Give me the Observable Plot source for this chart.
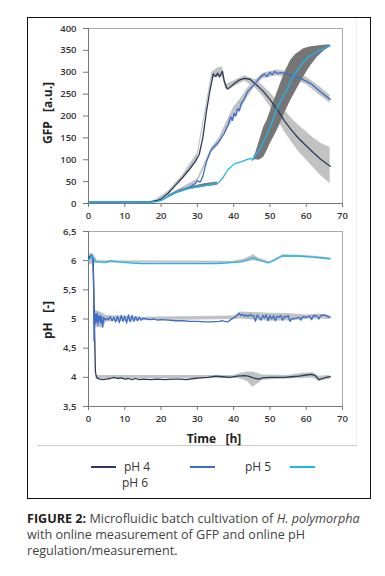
<!DOCTYPE html>
<html><head><meta charset="utf-8">
<script src="https://cdn.jsdelivr.net/npm/d3@7"></script>
<script src="https://cdn.jsdelivr.net/npm/@observablehq/plot@0.6"></script>
<style>
body{margin:0;background:#fff;}
#page{position:relative;width:385px;height:576px;overflow:hidden;font-family:"Open Sans",sans-serif;}
.abs{position:absolute;}
.ylab{position:absolute;font-family:"Open Sans",sans-serif;font-weight:700;font-size:12px;color:#222;white-space:pre;transform:translate(-50%,-50%) rotate(-90deg);}
.xlab{position:absolute;font-family:"Open Sans",sans-serif;font-weight:700;font-size:12px;color:#222;white-space:pre;transform:translate(-50%,-50%);}
.leg{position:absolute;font-family:"Open Sans",sans-serif;font-size:12px;color:#333;white-space:nowrap;}
.legline{position:absolute;height:2px;width:25px;}
#caption{position:absolute;left:27px;top:511px;font-family:"Open Sans",sans-serif;font-size:12.6px;line-height:16px;color:#444;white-space:nowrap;}
</style></head>
<body><div id="page">
<div class="abs" style="left:27px;top:17px;width:344px;height:482px;border:1.5px solid #111;box-sizing:border-box;"></div>
<div class="abs" style="left:356px;top:18px;width:1px;height:427px;background:#eee;"></div>
<div class="abs" style="left:37px;top:445px;width:320px;height:1px;background:#ccc;"></div>
<div id="c1" class="abs" style="left:0;top:0;"></div>
<div id="c2" class="abs" style="left:0;top:225px;"></div>
<div class="ylab" style="left:47px;top:113px;">GFP   [a.u.]</div>
<div class="ylab" style="left:47px;top:320px;">pH   [-]</div>
<div class="xlab" style="left:214px;top:438px;">Time   [h]</div>
<div id="legend"></div>
<div id="caption"><b style="color:#222">FIGURE 2:</b> Microfluidic batch cultivation of <i>H. polymorpha</i><br>with online measurement of GFP and online pH<br>regulation/measurement.</div>
</div>
<script>
// ---- data ----
const seriesNames = ["pH 4", "pH 5", "pH 6"];
const seriesColors = ["#2d3b5a", "#3a6ecb", "#1eb6ee"];
const xTicks = [0, 10, 20, 30, 40, 50, 60, 70];
const gfpTicks = [0, 50, 100, 150, 200, 250, 300, 350, 400];
const phTicks = [3.5, 4, 4.5, 5, 5.5, 6, 6.5];

// GFP [t, value]
const gfpPH4 = [[0,3],[10,3],[17,4],[19,7],[20,10],[22,24],[24,42],[26,60],[28,80],[29.5,97],[30.5,112],[31.5,150],[32.5,210],[33.5,260],[34.4,296],[35.1,290],[35.6,298],[36.1,289],[36.9,302],[37.4,280],[38,265],[38.5,262],[40,273],[41.5,282],[43,286],[44.5,284],[46,273],[48,258],[50,238],[52,215],[54,189],[56,167],[58,148],[60,132],[62,116],[64,101],[66.6,85]];
const gfpPH5 = [[0,3],[10,3],[17,3],[19,5],[20,7],[22,16],[24,25],[26,30],[28,38],[29.5,46],[30,52],[30.8,49],[31.5,62],[32.5,95],[33.7,122],[35,133],[36,142],[37.4,160],[38.5,180],[39.2,198],[39.7,190],[40.1,206],[40.6,200],[41.1,217],[41.6,212],[42,227],[43,240],[43.8,255],[45,266],[46,275],[47.5,290],[48.5,296],[49.2,290],[50,300],[50.6,294],[51.3,302],[52,297],[53,299],[54,298],[55.8,293],[58.5,286],[61.3,274],[64,255],[66.6,238]];
const gfpPH6 = [[0,3],[10,3],[17,3],[19,5],[20,7],[22,16],[24,25],[26,31],[28,35],[30,38],[32,41],[34,44],[35.6,46],[36.9,57],[38.3,76],[40.1,90],[42,95],[43.8,101],[44.9,103],[45.2,99],[45.7,107],[47.5,128],[49.3,160],[51,195],[52,218],[53,235],[54.8,262],[56,285],[57.5,303],[59.3,324],[61,337],[63,347],[65,355],[66.6,360]];
// GFP bands [t, low, high]
const gfpBandPH4 = [[18,2,6],[22,20,28],[26,55,66],[30,100,115],[34,285,300],[35.6,290,310],[36.9,290,312],[38,258,272],[40,266,280],[43,280,292],[46,264,283],[48,246,270],[50,222,253],[52,194,236],[54,164,214],[56,140,194],[58,118,178],[60,100,164],[62,82,150],[64,64,138],[66.6,45,128]];
const gfpBandPH5 = [[18,2,5],[24,22,28],[30,47,56],[34,116,128],[36,134,150],[38,165,185],[40,192,220],[42,215,240],[44,245,265],[46,268,282],[48,285,298],[52,292,305],[56,286,300],[60,272,290],[64,246,265],[66.6,229,247]];
const gfpBandPH6a = [[22,14,18],[25,26,31],[28,32,38],[32,38,45],[35.6,42,49]];
const gfpBandPH6b = [[45.5,99,105],[46,100,113],[47,99,140],[48.3,106,175],[49.2,120,190],[50,135,208],[52,167,253],[52.9,183,274],[54,205,298],[55.7,235,327],[57,255,340],[59.3,289,354],[61,312,358],[63,334,360],[65,349,362],[66.6,358,363]];

// pH [t, value]
const phPH4 = [[0,6.05],[0.5,6.08],[1,6.06],[1.3,6.0],[1.6,5.0],[1.9,4.1],[2.2,4.0],[3,3.97],[4,3.96],[5,3.97],[6,3.98],[7,4.0],[8,3.98],[9,3.99],[10,3.97],[11,3.98],[12,3.96],[13,3.98],[14,3.96],[15,3.97],[17,3.96],[19,3.97],[21,3.96],[23,3.97],[25,3.97],[27,3.96],[29,3.98],[31,3.99],[33,4.0],[35,4.02],[37,4.01],[39,4.0],[41,4.02],[43,4.03],[44,4.02],[45,4.0],[46,3.98],[47,3.97],[48,3.99],[50,4.0],[52,4.0],[54,4.0],[56,4.01],[58,4.02],[60,4.04],[61.5,4.05],[62.5,4.03],[63.5,3.96],[64.5,3.98],[65.5,4.0],[66.6,4.01]];
const phPH5 = [[0,6.02],[0.4,6.06],[0.8,6.1],[1.2,6.05],[1.4,5.6],[1.55,4.62],[1.7,5.1],[1.85,4.92],[2.0,5.08],[2.2,4.95],[2.4,5.1],[2.6,4.9],[2.8,5.05],[3.0,4.97],[3.2,5.06],[3.4,4.93],[3.6,5.04],[3.9,4.86],[4.2,5.03],[4.6,4.98],[5,5.01],[5.5,4.99],[6,5.04],[6.5,4.97],[7,5.03],[7.5,4.95],[8,5.05],[8.5,4.94],[9,5.06],[9.5,4.96],[10,5.05],[10.5,4.93],[11,5.07],[11.5,4.95],[12,5.06],[12.5,4.96],[13,5.04],[13.5,4.97],[14,5.03],[14.5,4.98],[15,5.01],[16,5.0],[17,4.99],[18,5.0],[19,4.98],[20,4.99],[22,4.98],[24,4.97],[26,4.97],[28,4.96],[30,4.96],[32,4.95],[34,4.95],[36,4.96],[37,4.97],[37.5,4.96],[38.3,4.95],[39,4.98],[40,5.02],[41,5.06],[41.5,5.1],[42,5.06],[42.5,5.08],[43,5.05],[43.5,5.07],[44,5.04],[44.5,5.08],[45,5.05],[45.5,5.06],[46,4.96],[46.5,5.07],[47,5.03],[47.5,4.98],[48,5.06],[48.5,5.02],[49,5.07],[49.5,4.97],[50,5.06],[50.5,5.0],[51,5.06],[51.5,4.97],[52,5.05],[52.5,5.03],[53,5.06],[53.5,4.98],[54,5.05],[54.5,5.03],[55,5.06],[55.5,4.96],[56,5.0],[57,5.01],[58,5.03],[58.5,4.98],[59,5.04],[60,5.03],[61,5.05],[61.5,4.99],[62,5.06],[63,5.05],[63.5,5.0],[64,5.06],[65,5.07],[66,5.04],[66.6,5.03]];
const phPH6 = [[0,6.0],[0.5,6.05],[1.0,6.08],[1.3,6.05],[2,5.98],[3,5.98],[4,5.97],[5,5.97],[6,6.0],[7,5.99],[8,5.98],[10,5.97],[12,5.96],[15,5.95],[20,5.95],[25,5.95],[30,5.95],[35,5.95],[38,5.96],[40,5.97],[42,5.98],[44,6.02],[45.5,6.05],[46.5,6.02],[48,5.99],[49.5,5.96],[51,6.0],[52.5,6.05],[53.5,6.08],[56,6.08],[58,6.08],[60,6.07],[62,6.06],[64,6.05],[66.6,6.03]];
const phBandPH4 = [[0,5.95,6.12],[1.3,5.95,6.12],[2.2,3.97,4.03],[40,3.98,4.03],[42,3.97,4.07],[44,3.92,4.09],[45.2,3.83,4.09],[46.5,3.88,4.07],[48,3.95,4.04],[55,3.97,4.03],[59,3.98,4.07],[62,3.99,4.08],[63.5,3.93,4.02],[66.6,3.97,4.03]];
const phBandPH5 = [[0,5.95,6.1],[1.3,5.95,6.12],[1.6,4.6,5.15],[2,4.85,5.15],[4,4.85,5.1],[5,4.95,5.06],[15,4.97,5.03],[40,4.99,5.05],[42,5.0,5.12],[50,4.96,5.1],[56,4.97,5.09],[60,4.99,5.07],[64,5.0,5.08],[66.6,4.99,5.06]];
const phBandPH6 = [[0,5.92,6.12],[1.5,5.95,6.1],[2.5,5.96,6.0],[40,5.95,5.99],[43,5.97,6.03],[45.5,6.0,6.1],[47,5.98,6.04],[50,5.95,5.98],[53.5,6.06,6.1],[60,6.05,6.09],[66.6,6.01,6.05]];

// ---- drawing ----
const light = "#c2c2c2", dark = "#767676";
const axisStyle = {fontFamily:"'Open Sans', sans-serif", fontSize:"9.5px", fontWeight:600, color:"#333", background:"transparent", overflow:"visible"};
const band = (d, fill) => Plot.areaY(d, {x: d => d[0], y1: d => d[1], y2: d => d[2], fill, curve:"linear"});
const line = (d, stroke) => Plot.line(d, {x: d => d[0], y: d => d[1], stroke, strokeWidth: 1.3});
const comma = d => String(d).replace(".", ",");

function common(yTicks, yFmt) {
  return [
    Plot.frame({stroke:"#aaa"}),
    Plot.axisX({ticks: xTicks, tickSize: 4, tickPadding: 5, stroke:"#777", fill:"#333", label: null}),
    Plot.axisY({ticks: yTicks, tickSize: 5, tickPadding: 7, stroke:"#777", fill:"#333", label: null, tickFormat: yFmt}),
  ];
}

const c1 = Plot.plot({
  width: 385, height: 225, marginLeft: 88, marginRight: 43, marginTop: 28, marginBottom: 22,
  style: axisStyle,
  x: {domain: [0, 70]}, y: {domain: [0, 400]},
  marks: [
    band(gfpBandPH4, light), band(gfpBandPH5, light),
    band(gfpBandPH6a, dark), band(gfpBandPH6b, dark),
    ...common(gfpTicks, d => d),
    Plot.ruleX([0], {stroke:"#777"}), Plot.ruleY([0], {stroke:"#777"}),
    line(gfpPH4, seriesColors[0]), line(gfpPH5, seriesColors[1]), line(gfpPH6, seriesColors[2])
  ]
});
document.getElementById("c1").append(c1);

const c2 = Plot.plot({
  width: 385, height: 220, marginLeft: 88, marginRight: 43, marginTop: 6, marginBottom: 39,
  style: axisStyle,
  x: {domain: [0, 70]}, y: {domain: [3.5, 6.5]},
  marks: [
    band(phBandPH4, light), band(phBandPH5, light), band(phBandPH6, light),
    ...common(phTicks, comma),
    Plot.ruleX([0], {stroke:"#777"}), Plot.ruleY([3.5], {stroke:"#777"}),
    line(phPH4, seriesColors[0]), line(phPH5, seriesColors[1]), line(phPH6, seriesColors[2])
  ]
});
document.getElementById("c2").append(c2);

// legend (wrapped like the original)
const leg = document.getElementById("legend");
const legPos = [{lx:91, ly:466}, {lx:190, ly:466}, {lx:290, ly:466}];
const textPos = [{x:124, y:458}, {x:245, y:458}, {x:122, y:474}];
seriesColors.forEach((c, i) => {
  const l = document.createElement("div");
  l.className = "legline"; l.style.left = legPos[i].lx + "px"; l.style.top = legPos[i].ly + "px"; l.style.background = c;
  leg.append(l);
  const t = document.createElement("div");
  t.className = "leg"; t.style.left = textPos[i].x + "px"; t.style.top = textPos[i].y + "px"; t.textContent = seriesNames[i];
  leg.append(t);
});
</script>
</body></html>
